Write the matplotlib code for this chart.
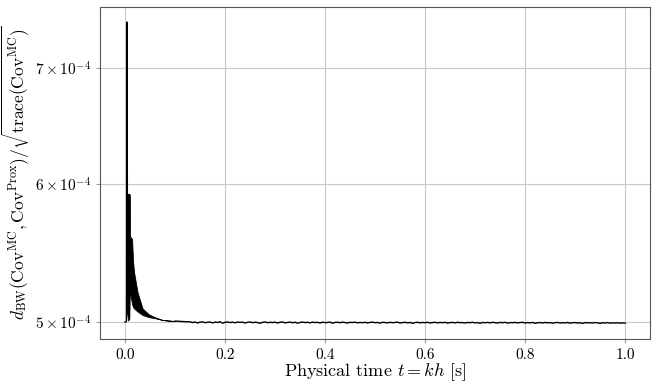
import numpy as np
import matplotlib
matplotlib.use('Agg')
from matplotlib import pyplot as plt

# values below are in units of 1e-4
# start-up transient (thin line)
t_early = [0.000, 0.002, 0.003, 0.004, 0.005, 0.006, 0.007, 0.008, 0.009]
v_early = [5.000, 5.002, 5.008, 7.44, 5.05, 5.92, 5.03, 5.92, 5.22]

# fast oscillation: upper / lower envelope of the dark band
t_band = [0.006, 0.0085, 0.0095, 0.010, 0.014, 0.016, 0.018, 0.025, 0.035,
          0.048, 0.061, 0.075, 0.088, 0.100]
band_hi = [5.92, 5.92, 5.92, 5.60, 5.58, 5.42, 5.34, 5.20, 5.09,
           5.05, 5.03, 5.013, 5.009, 5.006]
band_lo = [5.01, 5.02, 5.22, 5.20, 5.12, 5.10, 5.09, 5.07, 5.046,
           5.032, 5.024, 5.013, 5.009, 5.006]

# settled part
t_smooth = [0.100, 0.110, 0.120]
v_smooth = [5.006, 5.004, 5.002]

t_tail = np.round(np.arange(0.130, 1.0001, 0.005), 3)
v_tail = [
    5.001, 4.996, 5.000, 4.993, 4.999, 5.001, 4.995, 4.998, 5.000, 4.994,
    4.999, 4.997, 5.001, 4.992, 4.998, 5.000, 4.996, 4.999, 4.994, 5.000,
    4.997, 4.999, 4.993, 4.998, 5.000, 4.995, 4.999, 4.996, 4.991, 4.998,
    5.000, 4.995, 4.998, 4.996, 4.999, 4.993, 4.998, 5.000, 4.994, 4.997,
    4.999, 4.995, 4.998, 4.992, 4.997, 4.999, 4.996, 4.998, 4.994, 4.999,
    4.996, 4.998, 4.993, 4.999, 4.995, 4.997, 4.999, 4.992, 4.997, 4.998,
    4.995, 4.999, 4.996, 4.993, 4.998, 4.996, 4.999, 4.994, 4.997, 4.995,
    4.998, 4.993, 4.997, 4.999, 4.995, 4.997, 4.992, 4.998, 4.996, 4.994,
    4.998, 4.995, 4.997, 4.999, 4.993, 4.996, 4.998, 4.994, 4.997, 4.991,
    4.996, 4.998, 4.994, 4.997, 4.995, 4.998, 4.993, 4.996, 4.998, 4.994,
    4.997, 4.995, 4.998, 4.992, 4.996, 4.997, 4.994, 4.998, 4.995, 4.996,
    4.993, 4.997, 4.995, 4.998, 4.994, 4.996, 4.991, 4.997, 4.995, 4.997,
    4.994, 4.998, 4.995, 4.993, 4.997, 4.995, 4.998, 4.992, 4.996, 4.995,
    4.997, 4.994, 4.996, 4.998, 4.993, 4.996, 4.994, 4.997, 4.991, 4.995,
    4.996, 4.993, 4.997, 4.994, 4.996, 4.992, 4.995, 4.997, 4.993, 4.995,
    4.994, 4.997, 4.992, 4.995, 4.996, 4.993, 4.995, 4.990, 4.996, 4.994,
    4.995, 4.993, 4.996, 4.994, 4.991, 4.995, 4.993, 4.996, 4.992, 4.994,
    4.993, 4.995, 4.992, 4.994, 4.992,
]

x_ticks = [0.0, 0.2, 0.4, 0.6, 0.8, 1.0]
y_ticks = [5e-4, 6e-4, 7e-4]
y_ticklabels = [r'$5\times10^{-4}$', r'$6\times10^{-4}$', r'$7\times10^{-4}$']

plt.rcParams['font.family'] = 'serif'
plt.rcParams['font.serif'] = ['cmr10']
plt.rcParams['mathtext.fontset'] = 'cm'
plt.rcParams['axes.formatter.use_mathtext'] = True

sc = 1e-4
fig = plt.figure(figsize=(6.54, 3.86), dpi=100)
ax = fig.add_axes([0.153, 0.122, 0.841, 0.860])

ax.fill_between(np.array(t_band), np.array(band_lo) * sc, np.array(band_hi) * sc,
                color='black', lw=0.6)
ax.plot(t_early, np.array(v_early) * sc, color='black', lw=1.0)
ax.plot(list(t_smooth) + list(t_tail), np.array(v_smooth + v_tail) * sc,
        color='black', lw=1.0)

ax.set_yscale('log')
ax.set_xlim(-0.05, 1.05)
ax.set_ylim(4.889e-4, 7.59e-4)
ax.set_xticks(x_ticks)
ax.set_xticklabels(['0.0', '0.2', '0.4', '0.6', '0.8', '1.0'])
ax.set_yticks(y_ticks)
ax.set_yticklabels(y_ticklabels)
ax.yaxis.set_minor_locator(matplotlib.ticker.NullLocator())

ax.grid(True, color='#c8c8c8', lw=0.8)
ax.set_axisbelow(True)
for s in ax.spines.values():
    s.set_color('#555555')
ax.tick_params(labelsize=11, length=3, color='#999999', width=0.8)

ax.set_xlabel(r'Physical time $t = kh$ [s]', fontsize=13, labelpad=0)
ax.set_ylabel(r'$d_{\mathrm{BW}}(\mathrm{Cov}^{\mathrm{MC}}, \mathrm{Cov}^{\mathrm{Prox}}) / '
              r'\sqrt{\mathrm{trace}(\mathrm{Cov}^{\mathrm{MC}})}$', fontsize=12.5, labelpad=2)

plt.savefig('out.png', dpi=100)
